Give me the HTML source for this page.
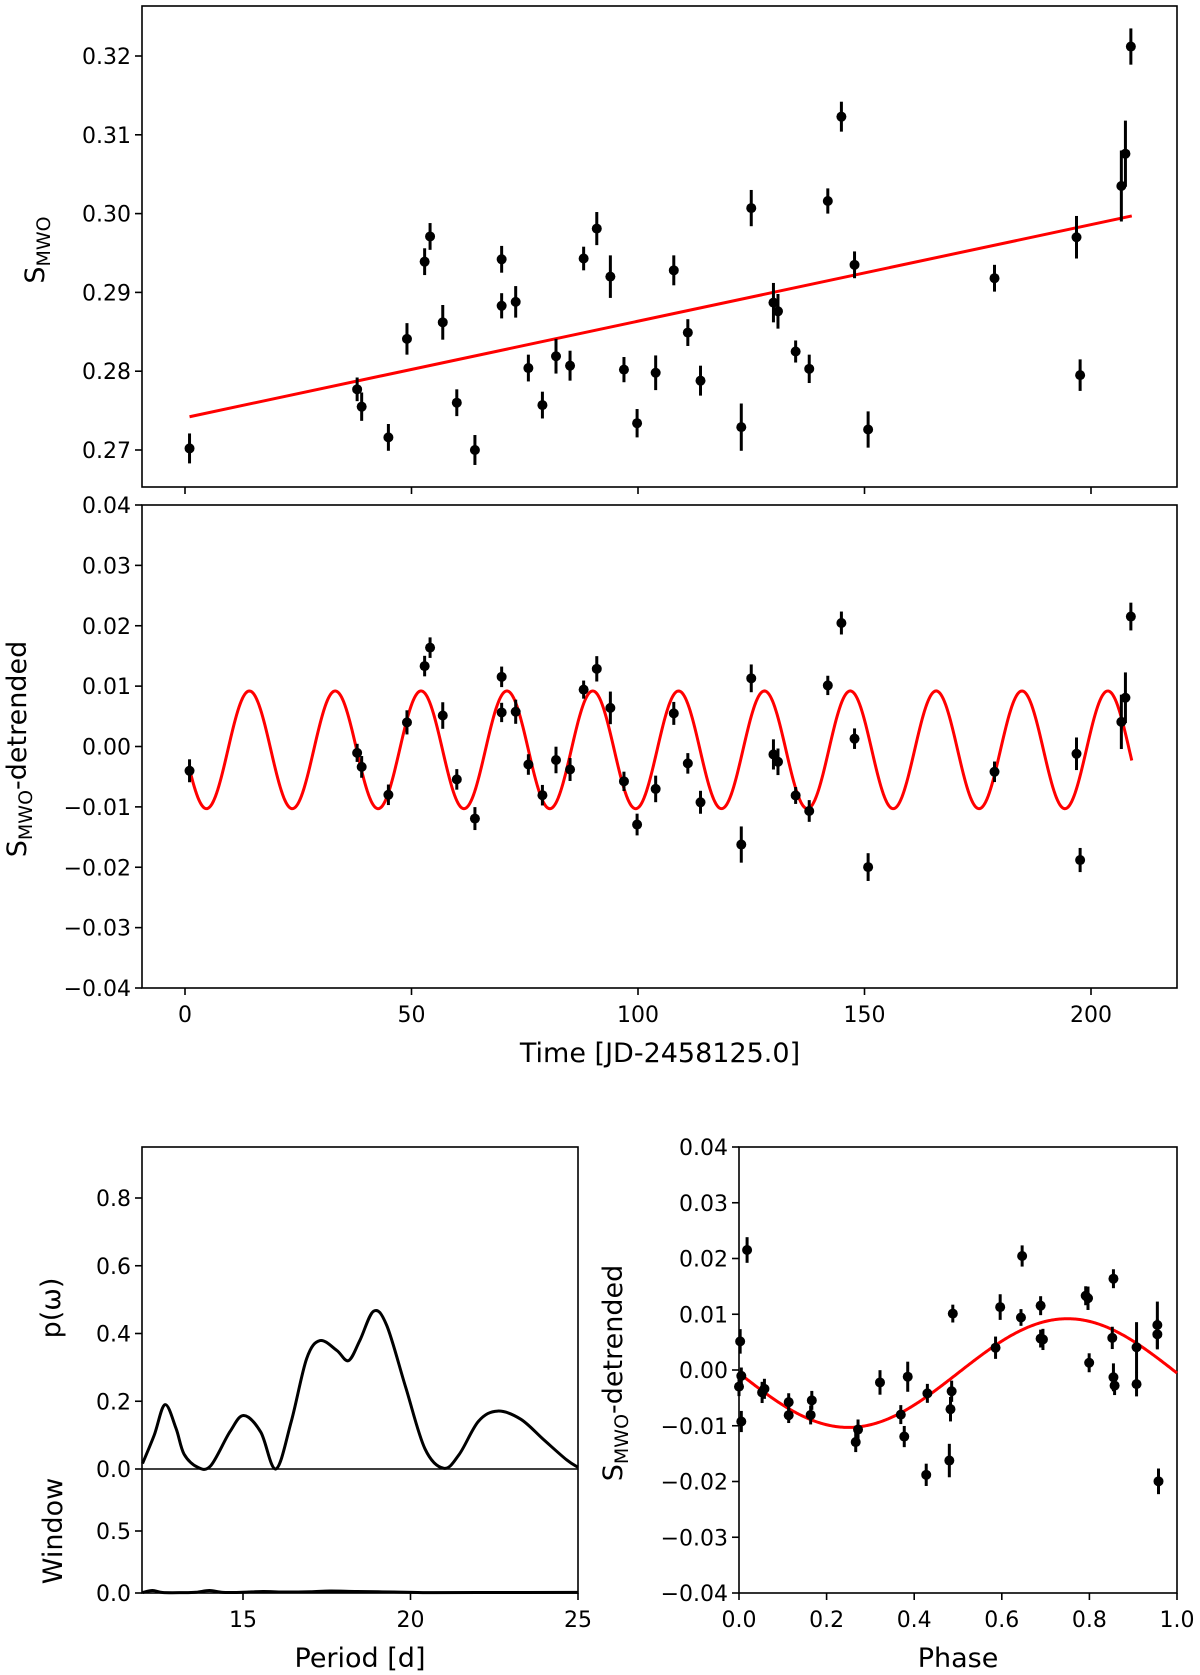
<!DOCTYPE html>
<html><head><meta charset="utf-8"><style>
html,body{margin:0;padding:0;background:#fff;}
svg{display:block;font-family:"DejaVu Sans","Liberation Sans",sans-serif;}
</style></head><body>
<svg id="fig" width="1200" height="1675" viewBox="0 0 1200 1675" xmlns="http://www.w3.org/2000/svg"></svg>
<script>
// ---- data ----
const times = [1.0,38.0,39.0,44.9,49.0,52.9,54.1,56.9,60.0,64.0,69.9,69.9,73.0,75.8,78.9,81.9,85.0,88.0,90.9,93.9,96.9,99.8,103.9,107.9,111.0,113.8,122.8,125.0,129.9,130.9,134.8,137.8,141.9,144.9,147.8,150.8,178.7,196.8,197.6,206.7,207.6,208.8];
const smwo = [0.2702,0.2777,0.2755,0.2716,0.2841,0.2939,0.2971,0.2862,0.2760,0.2700,0.2942,0.2883,0.2888,0.2804,0.2757,0.2819,0.2807,0.2943,0.2981,0.2920,0.2802,0.2734,0.2798,0.2928,0.2849,0.2788,0.2729,0.3007,0.2887,0.2876,0.2825,0.2803,0.3016,0.3123,0.2935,0.2726,0.2918,0.2970,0.2795,0.3035,0.3076,0.3212];
const smwoErr = [0.0019,0.0015,0.0018,0.0017,0.0020,0.0017,0.0017,0.0022,0.0017,0.0019,0.0017,0.0016,0.0020,0.0017,0.0017,0.0022,0.0019,0.0015,0.0021,0.0027,0.0016,0.0018,0.0022,0.0019,0.0017,0.0019,0.0030,0.0023,0.0025,0.0022,0.0014,0.0018,0.0016,0.0019,0.0017,0.0023,0.0017,0.0027,0.0020,0.0045,0.0042,0.0023];
const trendStart = 0.2741, trendEnd = 0.2997, trendT0 = 0, trendT1 = 209;
const sinePeriod = 18.95, sineAmp = 0.00975, sineOffset = -0.00055;
const periodX = [12,12.35,12.67,13.0,13.24,13.65,14.04,14.61,15.02,15.53,15.98,16.44,16.9,17.3,17.8,18.15,18.49,18.9,19.29,19.86,20.43,21.0,21.46,22.03,22.6,23.29,23.97,24.66,25];
const powerY = [0.016,0.10,0.19,0.12,0.044,0.005,0.01,0.11,0.158,0.109,0.0,0.14,0.326,0.379,0.35,0.32,0.38,0.466,0.424,0.24,0.06,0.002,0.044,0.141,0.171,0.147,0.087,0.027,0.005];
const windowX = [12,12.3,12.6,13.2,13.6,14.0,14.4,15.0,15.6,16.2,17.0,17.6,18.4,19.5,20.5,22,25];
const windowY = [0.004,0.02,0.004,0.003,0.006,0.02,0.005,0.006,0.012,0.008,0.01,0.016,0.012,0.008,0.003,0.004,0.005];
const yTicksTop = [0.27,0.28,0.29,0.30,0.31,0.32];
const yTicksDet = [-0.04,-0.03,-0.02,-0.01,0.00,0.01,0.02,0.03,0.04];
const xTicksTime = [0,50,100,150,200];
const xTicksPeriod = [15,20,25];
const yTicksPower = [0.0,0.2,0.4,0.6,0.8];
const yTicksWindow = [0.0,0.5];
const xTicksPhase = [0.0,0.2,0.4,0.6,0.8,1.0];

const NS = "http://www.w3.org/2000/svg";
const svg = document.getElementById('fig');
function el(tag, attrs, parent){const e=document.createElementNS(NS,tag);for(const k in attrs)e.setAttribute(k,attrs[k]);(parent||svg).appendChild(e);return e;}
function lin(d0,d1,r0,r1){return v=>r0+(v-d0)/(d1-d0)*(r1-r0);}
function fmtMinus(s){return s.replace('-','\u2212');}

const trend = t => trendStart + (t-trendT0)/(trendT1-trendT0)*(trendEnd-trendStart);
const sine = t => sineOffset - sineAmp*Math.sin(2*Math.PI*t/sinePeriod);
const resid = smwo.map((s,i)=>s-trend(times[i]));
const phases = times.map(t=>((t/sinePeriod)%1+1)%1);

function frame(x0,y0,x1,y1,name){
  const r=el('rect',{x:x0,y:y0,width:x1-x0,height:y1-y0,fill:'none',stroke:'#000','stroke-width':1.6});
  
  
}
function yTicks(vals,sy,x0,dec,name,labels=true){
  const g=el('g',{});
  
  
  vals.forEach(v=>{
    const y=sy(v);
    el('line',{x1:x0-7,x2:x0,y1:y,y2:y,stroke:'#000','stroke-width':1.6},g);
    if(labels){const t=el('text',{x:x0-11,y:y+8,'text-anchor':'end','font-size':22},g);t.textContent=fmtMinus(v.toFixed(dec));}
  });
}
function xTicks(vals,sx,y0,dec,name,labels=true){
  const g=el('g',{});
  
  
  vals.forEach(v=>{
    const x=sx(v);
    el('line',{x1:x,x2:x,y1:y0,y2:y0+7,stroke:'#000','stroke-width':1.6},g);
    if(labels){const t=el('text',{x:x,y:y0+34,'text-anchor':'middle','font-size':22},g);t.textContent=v.toFixed(dec);}
  });
}
function ylabel(x,y,main,sub,rest,name){
  const t=el('text',{transform:`translate(${x},${y}) rotate(-90)`,'text-anchor':'middle','font-size':27});
  
  
  const a=el('tspan',{},t);a.textContent=main;
  if(sub){const b=el('tspan',{'font-size':19,dy:6},t);b.textContent=sub;}
  if(rest){const c=el('tspan',{dy:sub?-6:0},t);c.textContent=rest;}
}
function xlabel(x,y,txt,name){
  const t=el('text',{x:x,y:y,'text-anchor':'middle','font-size':27});
  
  
  t.textContent=txt;
}
function points(xs,ys,errs,sx,sy,name){
  const g=el('g',{});
  
  
  xs.forEach((xv,i)=>{
    const x=sx(xv),y=sy(ys[i]);
    el('line',{x1:x,x2:x,y1:sy(ys[i]-errs[i]),y2:sy(ys[i]+errs[i]),stroke:'#000','stroke-width':3},g);
    const c=el('circle',{cx:x,cy:y,r:5,fill:'#000'},g);
    
    
  });
}
function curvePath(xs,ys,sx,sy){
  const P=xs.map((x,i)=>[sx(x),sy(ys[i])]);
  let d=`M${P[0][0]},${P[0][1]}`;
  for(let i=0;i<P.length-1;i++){
    const p0=P[Math.max(0,i-1)],p1=P[i],p2=P[i+1],p3=P[Math.min(P.length-1,i+2)];
    const c1=[p1[0]+(p2[0]-p0[0])/6,p1[1]+(p2[1]-p0[1])/6];
    const c2=[p2[0]-(p3[0]-p1[0])/6,p2[1]-(p3[1]-p1[1])/6];
    d+=` C${c1[0]},${c1[1]} ${c2[0]},${c2[1]} ${p2[0]},${p2[1]}`;
  }
  return d;
}

// ---- Panel 1 ----
const sxT = lin(0,200,185,1091);
const syTop = lin(0.27,0.32,450,56);
frame(142,6,1177,487,'top-panel-frame');
yTicks(yTicksTop,syTop,142,2,'top-y-ticks');
xTicks(xTicksTime,sxT,487,0,'top-x-ticks',false);
const tl=el('line',{x1:sxT(trendT0+1),y1:syTop(trend(trendT0+1)),x2:sxT(trendT1),y2:syTop(trend(trendT1)),stroke:'#f00','stroke-width':3});


points(times,smwo,smwoErr,sxT,syTop,'smwo-points');
ylabel(44,250,'S','MWO','','top-y-axis-title');

// ---- Panel 2 ----
const syDet = lin(-0.04,0.04,988,505);
frame(142,505,1177,988,'detrended-panel-frame');
yTicks(yTicksDet,syDet,142,2,'detrended-y-ticks');
xTicks(xTicksTime,sxT,988,0,'time-x-ticks');
{
  let d='';for(let i=0;i<=800;i++){const t=1+i*(209-1)/800;d+=(i?'L':'M')+sxT(t).toFixed(2)+','+syDet(sine(t)).toFixed(2);}
  const p=el('path',{d:d,fill:'none',stroke:'#f00','stroke-width':3});
  
  
}
points(times,resid,smwoErr,sxT,syDet,'detrended-points');
ylabel(26,749,'S','MWO','-detrended','detrended-y-axis-title');
xlabel(660,1062,'Time [JD-2458125.0]','time-x-axis-title');

// ---- Panel 3 ----
const sxP = lin(15,25,243,578);
const syPow = lin(0,0.8,1469,1198);
const syWin = lin(0,0.5,1593,1531);
frame(142,1147,578,1593,'periodogram-frame');
{const l=el('line',{x1:142,x2:578,y1:1469,y2:1469,stroke:'#000','stroke-width':1.6});
 
 }
yTicks(yTicksPower,syPow,142,1,'power-y-ticks');
yTicks(yTicksWindow,syWin,142,1,'window-y-ticks');
xTicks(xTicksPeriod,sxP,1593,0,'period-x-ticks');
{const p=el('path',{d:curvePath(periodX,powerY.map(v=>Math.max(v,0)),sxP,syPow),fill:'none',stroke:'#000','stroke-width':3});
 
 
 const w=el('path',{d:curvePath(windowX,windowY,sxP,syWin),fill:'none',stroke:'#000','stroke-width':3});
 
 }
ylabel(60,1308,'p(\u03c9)','','','power-y-axis-title');
ylabel(62,1531,'Window','','','window-y-axis-title');
xlabel(360,1667,'Period [d]','period-x-axis-title');

// ---- Panel 4 ----
const sxPh = lin(0,1,739,1177);
const syPh = lin(-0.04,0.04,1593,1147);
frame(739,1147,1177,1593,'phase-panel-frame');
yTicks(yTicksDet,syPh,739,2,'phase-y-ticks');
xTicks(xTicksPhase,sxPh,1593,1,'phase-x-ticks');
{
  let d='';for(let i=0;i<=400;i++){const ph=i/400;d+=(i?'L':'M')+sxPh(ph).toFixed(2)+','+syPh(sine(ph*sinePeriod)).toFixed(2);}
  const p=el('path',{d:d,fill:'none',stroke:'#f00','stroke-width':3});
  
  
}
points(phases,resid,smwoErr,sxPh,syPh,'phase-points');
ylabel(622,1373,'S','MWO','-detrended','phase-y-axis-title');
xlabel(958,1667,'Phase','phase-x-axis-title');
</script>
</body></html>
